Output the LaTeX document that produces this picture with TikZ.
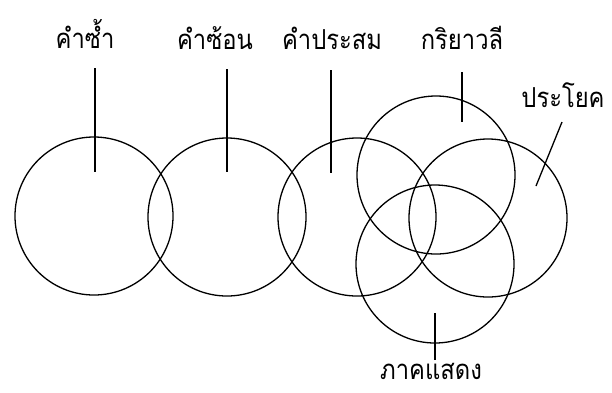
\documentclass[tikz,border=0pt]{standalone}
\usepackage{fontspec}
\newfontfamily\thaifont[Script=Thai]{Loma}
\begin{document}
\begin{tikzpicture}[x=1pt,y=-1pt,
  ring/.style={draw, line width=1.3pt, circle, minimum size=158pt, inner sep=0pt},
  lbl/.style={font=\thaifont\fontsize{25}{27}\selectfont, inner sep=0pt, anchor=base, xscale=0.95, yscale=1.1},
  lead/.style={line width=1.3pt}]
\useasboundingbox (0,0) rectangle (612,392);
% circles
\node[ring] (c1) at (94,216) {};
\node[ring] (c2) at (227,217) {};
\node[ring] (c3) at (357,217) {};
\node[ring] (c4) at (436,175) {};
\node[ring] (c5) at (488,218) {};
\node[ring] (c6) at (435,264) {};
% labels
\node[lbl] (t1) at (85,48) {คำซ้ำ};
\node[lbl] (t2) at (215,49) {คำซ้อน};
\node[lbl] (t3) at (332,49) {คำประสม};
\node[lbl] (t4) at (462,49) {กริยาวลี};
\node[lbl] (t5) at (563,107) {ประโยค};
\node[lbl] (t6) at (431,379) {\smash{ภาคแสดง}};
% leader lines
\coordinate (a1) at (95,68);  \coordinate (b1) at (95,172);
\coordinate (a2) at (227,69); \coordinate (b2) at (227,172);
\coordinate (a3) at (331,70); \coordinate (b3) at (331,173);
\coordinate (a4) at (462,72); \coordinate (b4) at (462,122);
\coordinate (a5) at (562,122); \coordinate (b5) at (536,186);
\coordinate (a6) at (435,313); \coordinate (b6) at (435,360);
\foreach \i in {1,...,6} {\draw[lead] (a\i) -- (b\i);}
\end{tikzpicture}
\end{document}
